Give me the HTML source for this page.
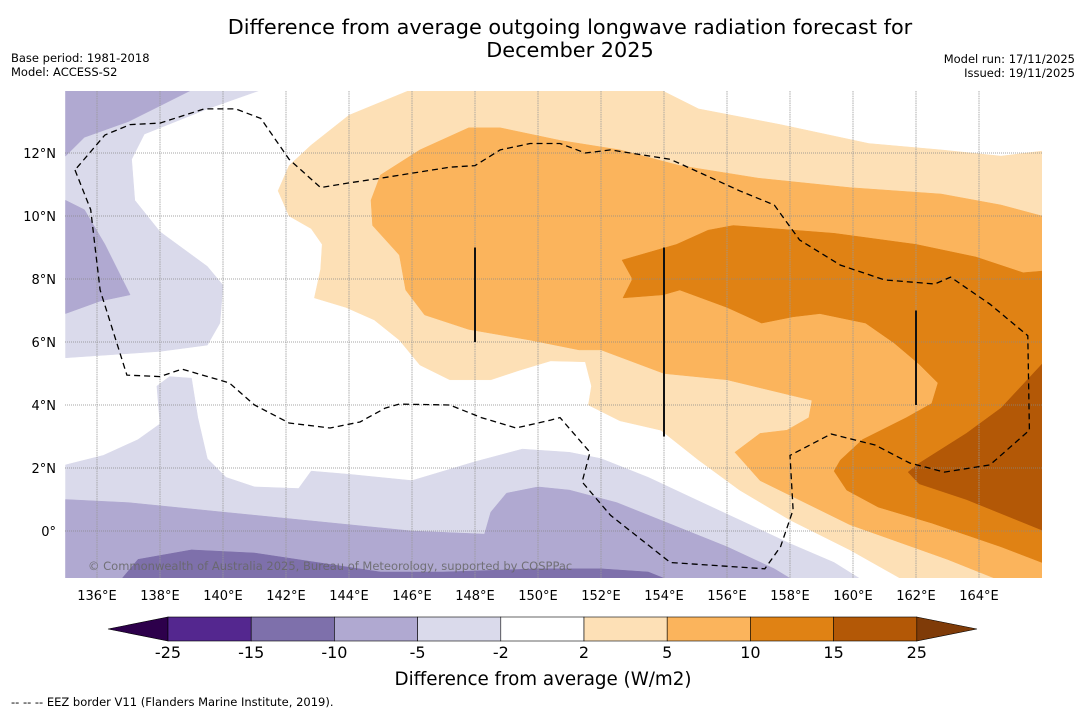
<!DOCTYPE html>
<html><head><meta charset="utf-8"><style>
body{margin:0;background:#fff;font-family:"Liberation Sans","DejaVu Sans",sans-serif;}
svg{display:block}
</style></head><body>
<svg id="chart" width="1085" height="713" viewBox="0 0 1085 713" xmlns="http://www.w3.org/2000/svg" font-family="DejaVu Sans, Liberation Sans, sans-serif">
<rect width="1085" height="713" fill="#fff"/>
<text x="570" y="34" text-anchor="middle" font-size="20.8">Difference from average outgoing longwave radiation forecast for</text>
<text x="570" y="57" text-anchor="middle" font-size="20.8">December 2025</text>
<text x="11" y="62" font-size="11.5">Base period: 1981-2018</text>
<text x="11" y="76" font-size="11.5">Model: ACCESS-S2</text>
<text x="1075" y="63" font-size="11.5" text-anchor="end">Model run: 17/11/2025</text>
<text x="1075" y="77" font-size="11.5" text-anchor="end">Issued: 19/11/2025</text>
<defs><clipPath id="mapclip"><rect x="65" y="91" width="977" height="487"/></clipPath></defs>
<g id="map" clip-path="url(#mapclip)"></g>
<g id="axes"></g>
<text x="88" y="570" font-size="11.5" fill="#666" fill-opacity="0.85">© Commonwealth of Australia 2025, Bureau of Meteorology, supported by COSPPac</text>
<g id="colorbar"></g>
<text x="543" y="685" text-anchor="middle" font-size="18.3">Difference from average (W/m2)</text>
<text x="11" y="706" font-size="11.5">--  --  -- EEZ border V11 (Flanders Marine Institute, 2019).</text>
</svg>
<script>
const lonTicks=[136,138,140,142,144,146,148,150,152,154,156,158,160,162,164];
const latTicks=[0,2,4,6,8,10,12];
const levelLabels=["-25","-15","-10","-5","-2","2","5","10","15","25"];
const levelColors=["#54278f","#7e70ab","#b0a9d1","#dadaeb","#ffffff","#fde0b6","#fbb45c","#e08214","#b35806"];
const extendColors=["#2d004b","#7f3b08"];
const zoneLightPurpleNW=[[135,14],[141.2,14],[139.5,13.4],[137.5,12.6],[137.1,11.8],[137.2,10.5],[138,9.5],[139.5,8.4],[140,7.8],[139.9,6.6],[139.5,5.9],[138,5.7],[135,5.5]];
const zoneMidPurpleNW=[[135,14],[139,14],[138,13.5],[137,13],[135.6,12.5],[135,11.9]];
const zoneMidPurpleW=[[135,10.5],[135.6,10.2],[136.25,9.1],[137.05,7.5],[136.1,7.3],[135,6.9]];
const zoneLightPurpleS=[[135,2.1],[136.2,2.4],[137.3,2.9],[138,3.4],[137.9,4.6],[138.3,4.9],[139,4.85],[139.2,3.6],[139.5,2.3],[140.1,1.7],[141,1.4],[142.4,1.35],[142.8,1.9],[144,1.8],[146,1.6],[148,2.2],[149.5,2.6],[151,2.5],[152,2.3],[153.5,1.7],[155,1.0],[156.5,0.3],[158,-0.4],[159.4,-1.0],[160.2,-1.5],[135,-1.5]];
const zoneMidPurpleS=[[135,1.0],[137,0.9],[140,0.6],[143,0.3],[146,0.0],[148.3,-0.1],[148.5,0.6],[149,1.2],[150,1.4],[151,1.3],[152.5,0.9],[154,0.3],[156,-0.5],[157.5,-1.2],[158,-1.5],[135,-1.5]];
const zoneDarkPurpleS=[[136.8,-1.5],[137.3,-0.9],[139,-0.6],[141,-0.7],[143,-1.0],[145,-1.3],[147,-1.3],[150,-1.2],[152,-1.2],[153.5,-1.3],[154,-1.5]];
const zoneLightOrange=[[145.95,14],[144,13.2],[142.8,12.25],[142.1,11.6],[141.75,10.8],[142.1,10],[142.8,9.6],[143.15,9.1],[143.1,8.3],[142.9,7.4],[143.9,7.1],[144.8,6.7],[145.6,6.06],[146.25,5.27],[147.2,4.8],[148.5,4.8],[149.4,5.1],[150.4,5.4],[151.5,5.37],[151.7,4.6],[151.6,4.0],[152.6,3.5],[153.9,3.2],[155.1,2.25],[156.4,1.3],[158,0.35],[159.9,-0.6],[161.5,-1.5],[166,-1.5],[166,12.06],[164.7,11.9],[162.8,12.1],[160.5,12.3],[157.7,12.9],[155.1,13.4],[153.9,14]];
const zoneMidOrange=[[147.8,12.8],[148.8,12.8],[150.7,12.4],[152.6,12.1],[154.5,11.6],[157,11.2],[159.9,10.9],[162.8,10.7],[164.7,10.35],[166,10],[166,-1.5],[164.5,-1.5],[163,-0.9],[159.9,0.2],[157.05,1.6],[156.25,2.5],[157.05,3.1],[157.9,3.2],[158.6,3.6],[158.7,4.15],[156,4.8],[154,5.0],[152,5.75],[151.3,5.75],[149.75,6.06],[147.8,6.4],[146.4,6.86],[145.8,7.65],[145.6,8.76],[144.75,9.7],[144.7,10.5],[145,11.3],[146.25,12.1]];
const zoneDarkOrange=[[152.67,8.6],[154.4,9.1],[155.4,9.55],[156.2,9.7],[159.4,9.45],[162,9.1],[163.9,8.7],[165.4,8.2],[166,8.25],[166,-1.0],[164.7,-0.5],[162.5,0.25],[160.8,0.76],[159.8,1.3],[159.4,1.9],[159.6,2.25],[160.3,2.9],[161.7,3.6],[162.5,4.05],[162.7,4.7],[162.1,5.3],[161.3,5.97],[160.4,6.6],[158.95,6.9],[158.1,6.8],[157.1,6.6],[156,7.1],[154.5,7.65],[153.97,7.5],[152.7,7.4],[153,8.0]];
const zoneDeepOrange=[[166,5.3],[164.7,3.9],[163.6,3.1],[162.1,2.15],[161.75,1.87],[162.1,1.5],[163.6,1.0],[166,0.03]];
const eezBorder=[[135.3,11.46],[135.8,10.2],[136.1,7.65],[136.95,4.95],[138,4.9],[138.7,5.14],[140.2,4.7],[141,4.0],[142.1,3.43],[143.4,3.27],[144.35,3.46],[145.15,3.9],[145.6,4.03],[147.2,4.0],[148.2,3.6],[149.3,3.27],[150.4,3.52],[150.7,3.6],[151.65,2.5],[151.4,1.56],[152.3,0.5],[154.2,-1.0],[157.2,-1.2],[157.7,-0.5],[158.1,0.67],[158,2.4],[159.3,3.08],[160.7,2.73],[161.8,2.16],[162.9,1.87],[164.35,2.1],[165.6,3.2],[165.55,6.2],[164.35,7.2],[163.1,8.06],[162.6,7.84],[161,7.97],[159.6,8.44],[158.3,9.24],[157.5,10.35],[156.4,10.8],[155.3,11.3],[154.2,11.8],[152.3,12.1],[151.5,12.0],[150.7,12.3],[149.75,12.3],[148.8,12.1],[148,11.6],[147.2,11.55],[145,11.2],[144,11.05],[143.1,10.9],[142.1,11.8],[141.2,13.1],[140.4,13.4],[139.4,13.4],[138,12.95],[137.05,12.9],[136.25,12.57],[135.3,11.46]];
const meridianBars=[[148,9,6],[154,9,3],[162,7,4]];

const NS="http://www.w3.org/2000/svg";
const xOf=lon=>97+(lon-136)*31.5;
const yOf=lat=>531-lat*31.5;
function mk(tag,attrs,parent){const e=document.createElementNS(NS,tag);for(const k in attrs)e.setAttribute(k,attrs[k]);parent.appendChild(e);return e;}
const map=document.getElementById('map');
const axes=document.getElementById('axes');
const pts=a=>a.map(p=>xOf(p[0]).toFixed(1)+','+yOf(p[1]).toFixed(1)).join(' ');
const zones=[[zoneLightPurpleNW,3,'zone-light-purple-nw'],[zoneMidPurpleNW,2,'zone-mid-purple-nw'],[zoneMidPurpleW,2,'zone-mid-purple-w'],[zoneLightPurpleS,3,'zone-light-purple-s'],[zoneMidPurpleS,2,'zone-mid-purple-s'],[zoneDarkPurpleS,1,'zone-dark-purple-s'],[zoneLightOrange,5,'zone-light-orange'],[zoneMidOrange,6,'zone-mid-orange'],[zoneDarkOrange,7,'zone-dark-orange'],[zoneDeepOrange,8,'zone-deep-orange']];
zones.forEach(z=>{
 const p=mk('polygon',{points:pts(z[0]),fill:levelColors[z[1]],stroke:levelColors[z[1]],'stroke-width':0.5},map);
 
 
});
lonTicks.forEach(l=>{
 const g=mk('line',{x1:xOf(l),x2:xOf(l),y1:91,y2:578,stroke:'#999','stroke-width':0.8,'stroke-dasharray':'1.5,0.8'},map);
 
 
 const t=mk('text',{x:xOf(l),y:600,'text-anchor':'middle','font-size':13},axes);
 t.textContent=l+'°E';
 
 
});
latTicks.forEach(l=>{
 const g=mk('line',{x1:65,x2:1042,y1:yOf(l),y2:yOf(l),stroke:'#888','stroke-width':0.8,'stroke-dasharray':'1,1'},map);
 
 
 const t=mk('text',{x:56,y:yOf(l)+5,'text-anchor':'end','font-size':13},axes);
 t.textContent=l===0?'0°':l+'°N';
 
 
});
const eez=mk('polyline',{points:pts(eezBorder),fill:'none',stroke:'#000','stroke-width':1.3,'stroke-dasharray':'6,4'},map);


meridianBars.forEach(b=>{
 const l=mk('line',{x1:xOf(b[0]),x2:xOf(b[0]),y1:yOf(b[1]),y2:yOf(b[2]),stroke:'#111','stroke-width':2},map);
 
 
});
const cb=document.getElementById('colorbar');
const cbX0=168,cbW=83.2,cbY=617,cbH=24;
const lt=mk('polygon',{points:`108,${cbY+cbH/2} ${cbX0},${cbY} ${cbX0},${cbY+cbH}`,fill:extendColors[0],stroke:'#000','stroke-width':0.6},cb);


levelColors.forEach((c,i)=>{
 const r=mk('rect',{x:cbX0+i*cbW,y:cbY,width:cbW,height:cbH,fill:c,stroke:'#000','stroke-width':0.6},cb);
 
 
});
const xe=cbX0+levelColors.length*cbW;
const rt=mk('polygon',{points:`${xe},${cbY} 977,${cbY+cbH/2} ${xe},${cbY+cbH}`,fill:extendColors[1],stroke:'#000','stroke-width':0.6},cb);


levelLabels.forEach((s,i)=>{
 const t=mk('text',{x:cbX0+i*cbW,y:658,'text-anchor':'middle','font-size':16},cb);
 t.textContent=s;
 
 
});
</script>
</body></html>
